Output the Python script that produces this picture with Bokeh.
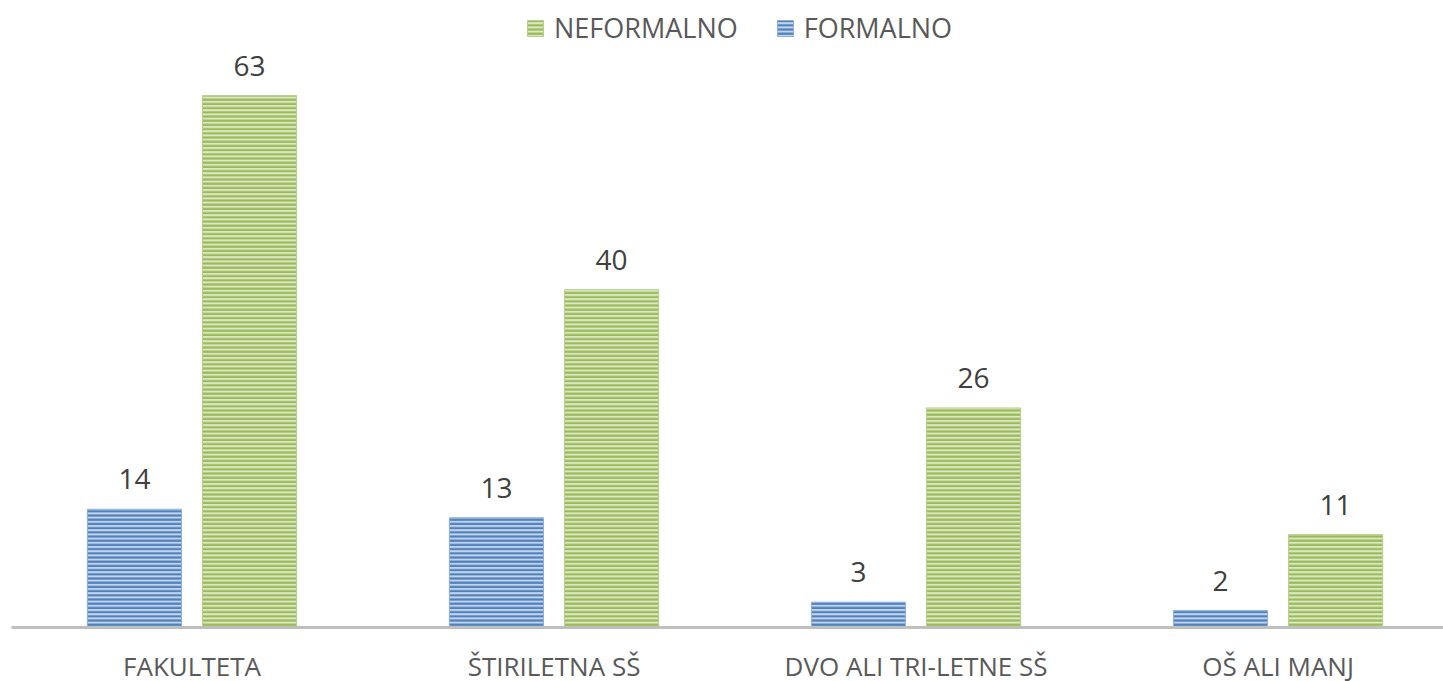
from bokeh.plotting import figure
from bokeh.models import ColumnDataSource, FixedTicker, LabelSet, Legend, LegendItem, Range1d
from bokeh.core.properties import value
from bokeh.embed import file_html
from bokeh.resources import INLINE

categories = ["FAKULTETA", "ŠTIRILETNA SŠ", "DVO ALI TRI-LETNE SŠ", "OŠ ALI MANJ"]
formalno = [14, 13, 3, 2]
neformalno = [63, 40, 26, 11]

FONT = "Open Sans"
idx = list(range(len(categories)))
off = 0.159
bw = 0.26

src_f = ColumnDataSource(dict(x=[i - off for i in idx], top=formalno, lab=[str(v) for v in formalno]))
src_n = ColumnDataSource(dict(x=[i + off for i in idx], top=neformalno, lab=[str(v) for v in neformalno]))

p = figure(frame_width=1432, frame_height=627, output_backend="svg", toolbar_location=None,
           x_range=Range1d(-0.4986, 3.457), y_range=Range1d(0, 74.25),
           min_border_left=11, min_border_right=0, min_border_top=0, min_border_bottom=0)
p.outline_line_color = None
p.grid.visible = False
p.yaxis.visible = False

rf = p.vbar(x="x", top="top", width=bw, source=src_f, fill_color="#c3d3ea",
            hatch_pattern="horizontal_line", hatch_color="#4f81bd", hatch_scale=4.2, hatch_weight=2.2,
            line_color="#8eaedb", line_width=1)
rn = p.vbar(x="x", top="top", width=bw, source=src_n, fill_color="#dbe7c4",
            hatch_pattern="horizontal_line", hatch_color="#9bbb59", hatch_scale=4.2, hatch_weight=2.2,
            line_color="#b7cf8c", line_width=1)

for s in (src_f, src_n):
    p.add_layout(LabelSet(x="x", y="top", text="lab", source=s, y_offset=20,
                          text_align="center", text_baseline="alphabetic",
                          text_font=value(FONT), text_font_size="28px", text_color="#404040"))

ax = p.xaxis[0]
ax.ticker = FixedTicker(ticks=idx)
ax.major_label_overrides = {i: c for i, c in zip(idx, categories)}
ax.axis_line_color = "#bfbfbf"
ax.axis_line_width = 3
ax.major_tick_line_color = None
ax.minor_tick_line_color = None
ax.major_tick_out = 0
ax.major_tick_in = 0
ax.minor_tick_out = 0
ax.minor_tick_in = 0
ax.major_label_standoff = 20
ax.major_label_text_font = FONT
ax.major_label_text_font_size = "26px"
ax.major_label_text_color = "#595959"

legend = Legend(items=[LegendItem(label="NEFORMALNO", renderers=[rn]),
                       LegendItem(label="FORMALNO", renderers=[rf])],
                orientation="horizontal", location=(514, 581),
                glyph_width=20, glyph_height=20, label_standoff=9, spacing=37,
                padding=0, margin=0, border_line_color=None, background_fill_alpha=0,
                label_text_font=FONT, label_text_font_size="27px", label_text_color="#595959")
p.add_layout(legend, "center")

open("out.html", "w").write(file_html(p, INLINE))
